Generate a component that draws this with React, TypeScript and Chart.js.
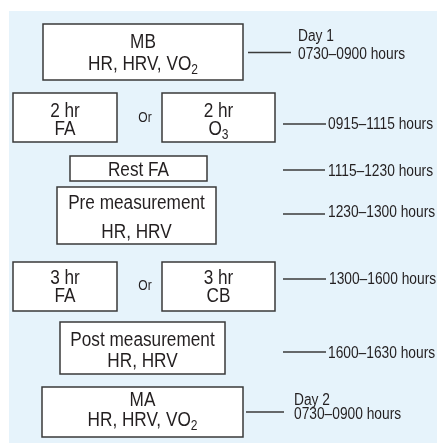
import React, { useEffect, useRef } from "react";
import { Chart, registerables } from "chart.js";

Chart.register(...registerables);

// ---------- data (text content) ----------
const stepLines: string[][] = [
  ["MB", "HR, HRV, VO_2"],
  ["2 hr", "FA"],
  ["2 hr", "O_3"],
  ["Rest FA"],
  ["Pre measurement", "HR, HRV"],
  ["3 hr", "FA"],
  ["3 hr", "CB"],
  ["Post measurement", "HR, HRV"],
  ["MA", "HR, HRV, VO_2"],
];
const orLabel = "Or";
const timeLabels: string[][] = [
  ["Day 1", "0730–0900 hours"],
  ["0915–1115 hours"],
  ["1115–1230 hours"],
  ["1230–1300 hours"],
  ["1300–1600 hours"],
  ["1600–1630 hours"],
  ["Day 2", "0730–0900 hours"],
];

// ---------- layout (in scale units) ----------
const W = 437;
const H = 443;
const boxRects = [
  { x0: 43, x1: 243, y0: 24, y1: 80, ty: [40.5, 62.5] },
  { x0: 13, x1: 117, y0: 93, y1: 142, ty: [109.5, 127.5] },
  { x0: 162, x1: 275, y0: 93, y1: 142, ty: [109.5, 127.5] },
  { x0: 70, x1: 207, y0: 156, y1: 181, ty: [168.5] },
  { x0: 57, x1: 216, y0: 187, y1: 244, ty: [202, 231] },
  { x0: 13, x1: 117, y0: 262, y1: 311, ty: [277, 295] },
  { x0: 162, x1: 275, y0: 262, y1: 311, ty: [277, 295] },
  { x0: 60, x1: 225, y0: 322, y1: 374, ty: [339, 359.5] },
  { x0: 42, x1: 243, y0: 387, y1: 437, ty: [399, 419] },
];
const orPositions = [
  { x: 145, y: 117 },
  { x: 145, y: 285 },
];
const connectors = [
  { x0: 248, x1: 291, y: 52.5 },
  { x0: 283, x1: 326, y: 124 },
  { x0: 283, x1: 325, y: 170 },
  { x0: 283, x1: 325, y: 214 },
  { x0: 283, x1: 326, y: 279 },
  { x0: 283, x1: 326, y: 352 },
  { x0: 246, x1: 284, y: 412 },
];
const timeTextPos = [
  { x: 298, ty: [35, 53.5] },
  { x: 328, ty: [123.5] },
  { x: 328, ty: [170] },
  { x: 328, ty: [211] },
  { x: 329, ty: [278] },
  { x: 328, ty: [352] },
  { x: 294, ty: [399.5, 413] },
];

const FAMILY = '"Liberation Sans", Arial, sans-serif';
const SQUEEZE = 0.86;
const TEXT_COLOR = "#231f20";
const LINE_COLOR = "#3a3a3a";
const BG_COLOR = "#e6f3fb";

function drawRich(
  ctx: CanvasRenderingContext2D,
  text: string,
  x: number,
  cy: number,
  size: number,
  align: "center" | "left"
) {
  const parts: { t: string; sub: boolean }[] = [];
  let buf = "";
  for (let i = 0; i < text.length; i++) {
    if (text[i] === "_" && i + 1 < text.length) {
      if (buf) parts.push({ t: buf, sub: false });
      buf = "";
      parts.push({ t: text[i + 1], sub: true });
      i++;
    } else buf += text[i];
  }
  if (buf) parts.push({ t: buf, sub: false });
  const subSize = Math.round(size * 0.7);
  let total = 0;
  const widths = parts.map((p) => {
    ctx.font = `${p.sub ? subSize : size}px ${FAMILY}`;
    const w = ctx.measureText(p.t).width * SQUEEZE;
    total += w;
    return w;
  });
  let sx = align === "center" ? x - total / 2 : x;
  const baseline = cy + size * 0.36;
  ctx.textBaseline = "alphabetic";
  ctx.textAlign = "left";
  parts.forEach((p, i) => {
    ctx.font = `${p.sub ? subSize : size}px ${FAMILY}`;
    const by = p.sub ? baseline + size * 0.2 : baseline;
    ctx.fillText(p.t, sx, by, widths[i]);
    sx += widths[i];
  });
}

const flowPlugin = {
  id: "flowPlugin",
  beforeDraw(chart: any) {
    const ctx: CanvasRenderingContext2D = chart.ctx;
    const xs = chart.scales.x;
    const ys = chart.scales.y;
    ctx.save();
    ctx.fillStyle = "#ffffff";
    ctx.fillRect(0, 0, chart.width, chart.height);
    const bx0 = xs.getPixelForValue(9);
    const by0 = ys.getPixelForValue(11);
    ctx.fillStyle = BG_COLOR;
    ctx.fillRect(bx0, by0, xs.getPixelForValue(W) - bx0, ys.getPixelForValue(H) - by0);
    boxRects.forEach((b) => {
      const px0 = Math.round(xs.getPixelForValue(b.x0));
      const px1 = Math.round(xs.getPixelForValue(b.x1));
      const py0 = Math.round(ys.getPixelForValue(b.y0));
      const py1 = Math.round(ys.getPixelForValue(b.y1));
      ctx.fillStyle = "#ffffff";
      ctx.fillRect(px0, py0, px1 - px0, py1 - py0);
      ctx.strokeStyle = LINE_COLOR;
      ctx.lineWidth = 1.5;
      ctx.beginPath();
      ctx.moveTo(px0, py0);
      ctx.lineTo(px1, py0);
      ctx.lineTo(px1, py1);
      ctx.lineTo(px0, py1);
      ctx.closePath();
      ctx.stroke();
    });
    ctx.restore();
  },
  afterDraw(chart: any) {
    const ctx: CanvasRenderingContext2D = chart.ctx;
    const xs = chart.scales.x;
    const ys = chart.scales.y;
    ctx.save();
    ctx.fillStyle = TEXT_COLOR;
    stepLines.forEach((lines, i) => {
      const b = boxRects[i];
      const cx = xs.getPixelForValue((b.x0 + b.x1) / 2);
      lines.forEach((line, j) => {
        drawRich(ctx, line, cx, ys.getPixelForValue(b.ty[j]), 20, "center");
      });
    });
    orPositions.forEach((p) => {
      drawRich(ctx, orLabel, xs.getPixelForValue(p.x), ys.getPixelForValue(p.y), 14, "center");
    });
    timeLabels.forEach((lines, i) => {
      const p = timeTextPos[i];
      lines.forEach((line, j) => {
        drawRich(ctx, line, xs.getPixelForValue(p.x), ys.getPixelForValue(p.ty[j]), 16, "left");
      });
    });
    ctx.restore();
  },
};

export default function App() {
  const ref = useRef<HTMLCanvasElement | null>(null);
  useEffect(() => {
    const canvas = ref.current;
    if (!canvas) return;
    const chart = new Chart(canvas, {
      type: "line",
      data: {
        datasets: connectors.map((c, i) => ({
          label: `connector ${i + 1}`,
          data: [
            { x: c.x0, y: c.y },
            { x: c.x1, y: c.y },
          ],
          borderColor: LINE_COLOR,
          borderWidth: 1.5,
          pointRadius: 0,
          fill: false,
        })),
      },
      options: {
        animation: false,
        responsive: false,
        maintainAspectRatio: false,
        devicePixelRatio: 1,
        events: [],
        layout: { padding: 0 },
        plugins: {
          legend: { display: false },
          tooltip: { enabled: false },
        },
        scales: {
          x: { type: "linear", min: 0, max: W, display: false },
          y: { type: "linear", min: 0, max: H, reverse: true, display: false },
        },
      },
      plugins: [flowPlugin],
    });
    return () => chart.destroy();
  }, []);
  return (
    <div style={{ position: "absolute", left: 0, top: 0, width: W, height: H, background: "#ffffff" }}>
      <canvas ref={ref} width={W} height={H} style={{ display: "block", width: W, height: H }} />
    </div>
  );
}
